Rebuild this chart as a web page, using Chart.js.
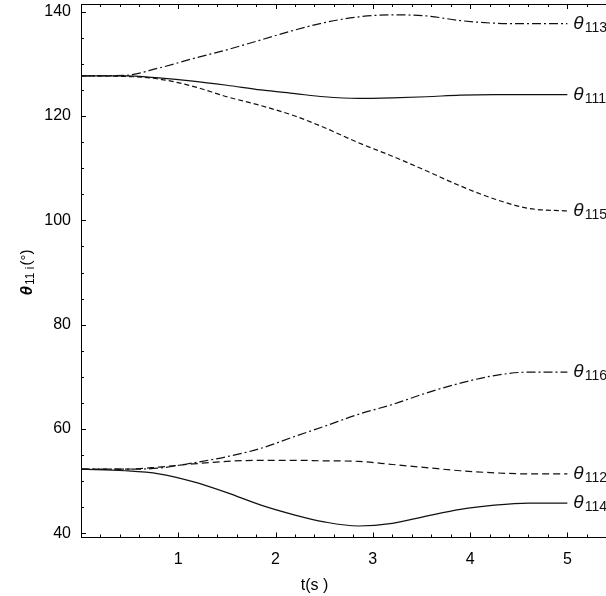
<!DOCTYPE html>
<html>
<head>
<meta charset="utf-8">
<script src="https://cdn.jsdelivr.net/npm/chart.js@4.4.0/dist/chart.umd.min.js"></script>
<style>
  html, body { margin: 0; padding: 0; background: #fff; overflow: hidden; }
  #wrap { width: 616px; height: 596px; }
</style>
</head>
<body>
<div id="wrap"><canvas id="angles-chart" width="616" height="596"></canvas></div>
<script>
// time samples (s)
const timeSteps = [0, 0.45, 0.8, 1.15, 1.5, 1.85, 2.2, 2.5, 2.85, 3.2, 3.55, 3.9, 4.25, 4.6, 5.0];

// joint angles (deg)
const theta113 = [127.7, 127.8, 129.2, 131.0, 132.7, 134.6, 136.5, 137.9, 139.0, 139.4, 139.2, 138.3, 137.8, 137.7, 137.7];
const theta111 = [127.7, 127.7, 127.3, 126.7, 125.9, 125.0, 124.3, 123.7, 123.4, 123.5, 123.7, 124.0, 124.1, 124.1, 124.1];
const theta115 = [127.7, 127.6, 127.1, 125.7, 123.7, 122.0, 120.0, 117.8, 114.9, 112.3, 109.5, 106.6, 104.1, 102.3, 101.8];
const theta116 = [52.3, 52.3, 52.5, 53.5, 54.7, 56.3, 58.6, 60.5, 62.8, 64.7, 66.9, 68.8, 70.25, 70.9, 70.9];
const theta112 = [52.3, 52.3, 52.7, 53.3, 53.8, 54.0, 54.0, 53.9, 53.8, 53.2, 52.6, 52.0, 51.6, 51.4, 51.4];
const theta114 = [52.3, 52.0, 51.4, 49.9, 47.8, 45.4, 43.5, 42.2, 41.4, 41.9, 43.3, 44.6, 45.4, 45.8, 45.8];

const seriesNames = ['113', '111', '115', '116', '112', '114'];
const seriesValues = [theta113, theta111, theta115, theta116, theta112, theta114];
const seriesDash = [[9, 3, 2, 3], [], [5, 3], [9, 3, 2, 3], [7, 4], []];

const xTickLabels = [1, 2, 3, 4, 5];
const yTickLabels = [40, 60, 80, 100, 120, 140];

const tickFont = { family: '"Liberation Sans", Arial, sans-serif', size: 16 };

// inward ticks, frame top line, series labels and axis titles
const decorPlugin = {
    id: 'decor',
    afterDraw(chart) {
        const ctx = chart.ctx;
        const area = chart.chartArea;
        const xs = chart.scales.x;
        const ys = chart.scales.y;
        ctx.save();
        ctx.strokeStyle = '#000';
        ctx.lineWidth = 1;
        ctx.beginPath();
        ctx.moveTo(area.left, area.top + 0.5);
        ctx.lineTo(area.right, area.top + 0.5);
        // x ticks every 0.2
        for (let i = 1; i <= 27; i++) {
            const v = i * 0.2;
            const px = Math.round(xs.getPixelForValue(v)) + 0.5;
            const len = (i % 5 === 0) ? 5 : 3;
            ctx.moveTo(px, area.bottom);
            ctx.lineTo(px, area.bottom - len);
            ctx.moveTo(px, area.top);
            ctx.lineTo(px, area.top + len);
        }
        // y ticks every 5
        for (let v = 40; v <= 140; v += 5) {
            const py = Math.round(ys.getPixelForValue(v)) + 0.5;
            const len = (v % 20 === 0) ? 5 : 3;
            ctx.moveTo(area.left, py);
            ctx.lineTo(area.left + len, py);
        }
        ctx.stroke();

        // series labels at the right end of each curve
        ctx.fillStyle = '#111';
        ctx.textBaseline = 'middle';
        ctx.textAlign = 'left';
        seriesNames.forEach((name, i) => {
            const vals = seriesValues[i];
            const px = xs.getPixelForValue(timeSteps[timeSteps.length - 1]) + 6;
            const py = ys.getPixelForValue(vals[vals.length - 1]);
            ctx.font = 'italic 19px "Liberation Sans", Arial, sans-serif';
            ctx.fillText('θ', px, py);
            const w = ctx.measureText('θ').width;
            ctx.font = '14px "Liberation Sans", Arial, sans-serif';
            ctx.fillText(name, px + w + 1, py + 4);
        });

        // x axis title
        ctx.font = '16px "Liberation Sans", Arial, sans-serif';
        ctx.textAlign = 'center';
        ctx.fillStyle = '#000';
        ctx.fillText('t(s )', xs.getPixelForValue(2.4), 586);

        // y axis title, rotated
        ctx.translate(27, 272);
        ctx.rotate(-Math.PI / 2);
        ctx.textAlign = 'left';
        const parts = [
            { t: 'θ', f: 'bold italic 17px "Liberation Sans", Arial, sans-serif', dy: 0 },
            { t: '11 i', f: '12px "Liberation Sans", Arial, sans-serif', dy: 4 },
            { t: '(°)', f: '15px "Liberation Sans", Arial, sans-serif', dy: 0 }
        ];
        let total = 0;
        parts.forEach(p => { ctx.font = p.f; p.w = ctx.measureText(p.t).width; total += p.w + 1; });
        let cx = -total / 2;
        parts.forEach(p => {
            ctx.font = p.f;
            ctx.fillText(p.t, cx, p.dy);
            cx += p.w + 1;
        });
        ctx.restore();
    }
};

const ctx = document.getElementById('angles-chart').getContext('2d');
new Chart(ctx, {
    type: 'line',
    data: {
        datasets: seriesValues.map((vals, i) => ({
            label: 'θ' + seriesNames[i],
            data: vals.map((v, k) => ({ x: timeSteps[k], y: v })),
            borderColor: '#111',
            borderWidth: 1.2,
            borderDash: seriesDash[i],
            pointRadius: 0,
            cubicInterpolationMode: 'monotone',
            fill: false
        }))
    },
    options: {
        responsive: false,
        animation: false,
        layout: { padding: { top: 4, right: 0, left: 0, bottom: 0 } },
        plugins: {
            legend: { display: false },
            tooltip: { enabled: false }
        },
        scales: {
            x: {
                type: 'linear',
                min: 0,
                max: 5.5,
                grid: { display: false, drawTicks: false },
                border: { display: true, color: '#000', width: 1 },
                ticks: {
                    padding: 12,
                    color: '#000',
                    font: tickFont,
                    autoSkip: false,
                    maxRotation: 0
                },
                afterBuildTicks: s => { s.ticks = xTickLabels.map(v => ({ value: v })); },
                afterFit: s => {
                    s.height = 58.5;
                    s.paddingLeft = 0;
                    s.paddingRight = 0;
                }
            },
            y: {
                min: 39.2,
                max: 141.48,
                grid: { display: false, drawTicks: false },
                border: { display: true, color: '#000', width: 1 },
                ticks: {
                    padding: 10,
                    color: '#000',
                    font: tickFont,
                    autoSkip: false
                },
                afterBuildTicks: s => { s.ticks = yTickLabels.map(v => ({ value: v })); },
                afterFit: s => {
                    s.width = 81;
                    s.paddingTop = 0;
                    s.paddingBottom = 0;
                }
            }
        }
    },
    plugins: [decorPlugin]
});
</script>
</body>
</html>
